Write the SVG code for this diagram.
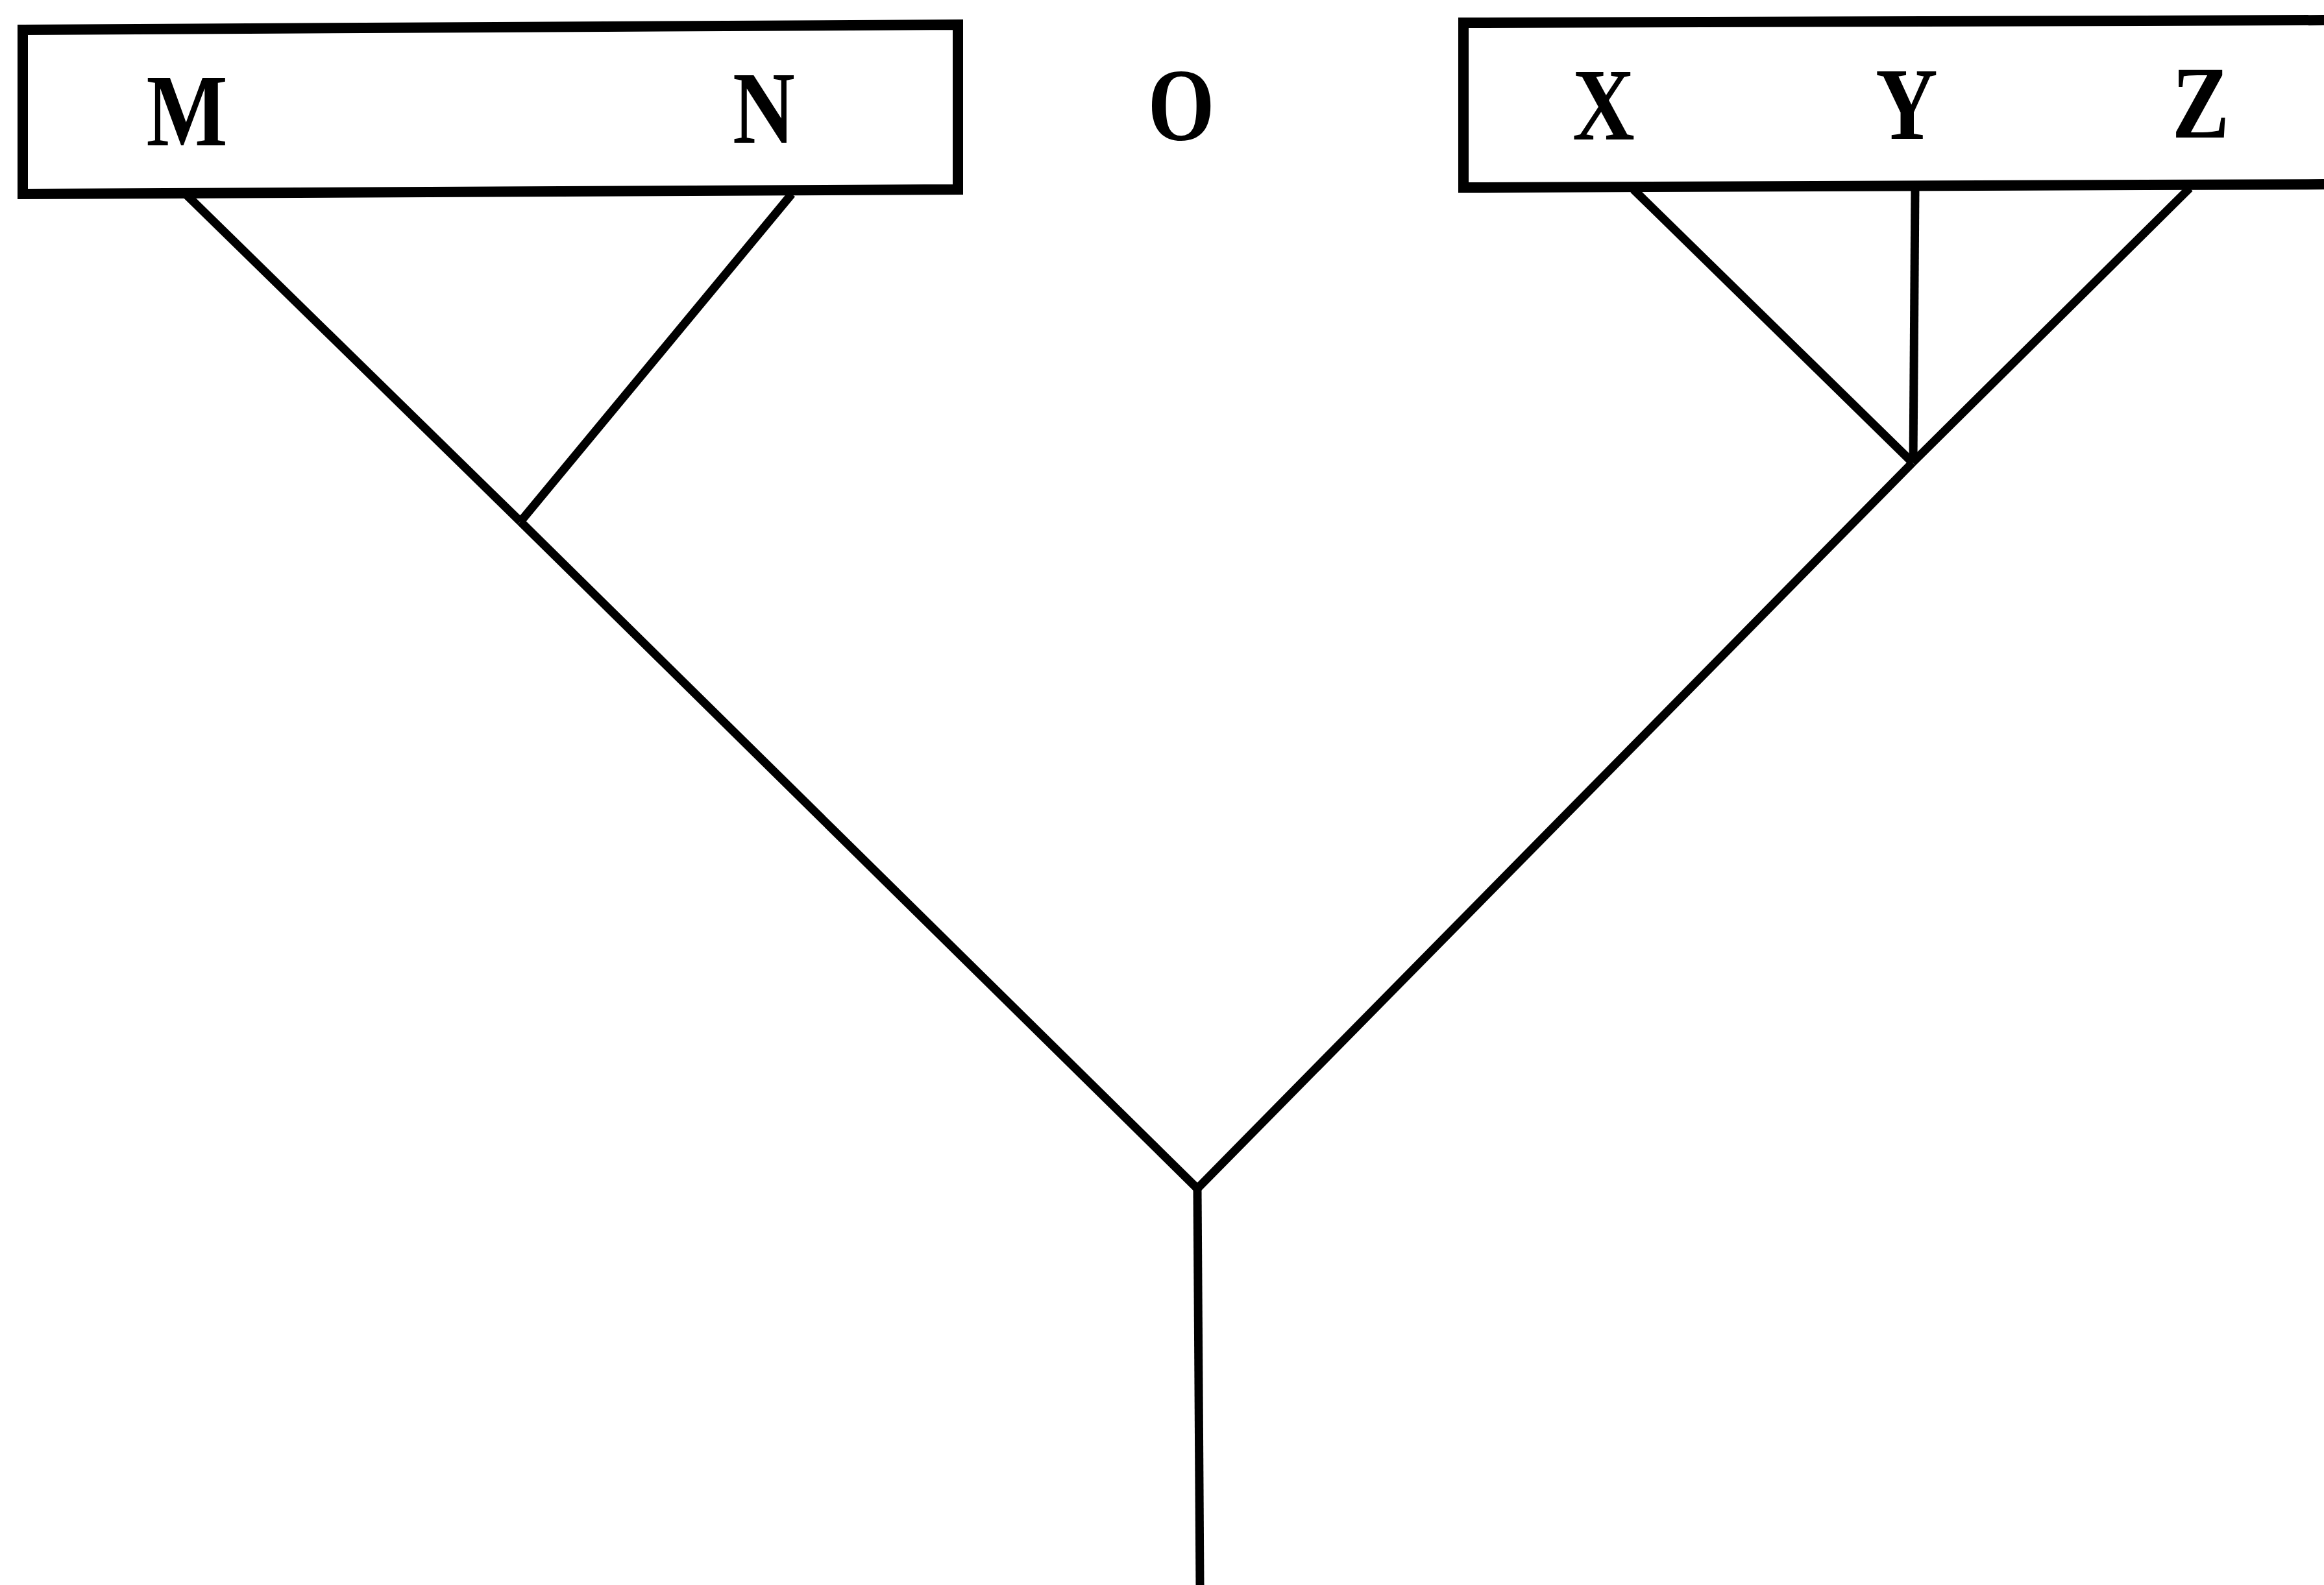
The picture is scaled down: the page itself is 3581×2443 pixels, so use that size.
<svg xmlns="http://www.w3.org/2000/svg" width="3581" height="2443" viewBox="0 0 3581 2443">
<style>
.box{fill:none;stroke:#000;stroke-width:16;stroke-linejoin:miter}
.lbl{font-family:"Liberation Serif","Times New Roman",serif;font-weight:bold;font-size:158px;fill:#000;text-anchor:middle}
.con line{stroke:#000;stroke-width:13;stroke-linecap:butt}
</style>
<rect width="3581" height="2443" fill="#fff"/>
<g id="node-MN">
<polygon class="box" points="35,46 1476,38 1476,292 35,299"/>
<text class="lbl" transform="translate(288,224) scale(0.84,1)">M</text>
<text class="lbl" transform="translate(1177,220) scale(0.84,1)">N</text>
</g>
<g id="node-O">
<text class="lbl" transform="translate(1820,215) scale(0.84,1)">O</text>
</g>
<g id="node-XYZ">
<polygon class="box" points="2255,35 3600,31 3600,284 2255,289"/>
<text class="lbl" transform="translate(2471,215) scale(0.84,1)">X</text>
<text class="lbl" transform="translate(2938,214) scale(0.84,1)">Y</text>
<text class="lbl" transform="translate(3391,212) scale(0.84,1)">Z</text>
</g>
<g id="connectors" class="con">
<line x1="287" y1="300" x2="802" y2="804"/>
<line x1="1220" y1="299" x2="802" y2="804"/>
<line x1="802" y1="804" x2="1845" y2="1832"/>
<line x1="2517" y1="292" x2="2947" y2="713"/>
<line x1="2951" y1="290" x2="2948" y2="713"/>
<line x1="3374" y1="290" x2="2947" y2="713"/>
<line x1="2947" y1="713" x2="1845" y2="1832"/>
<line x1="1845" y1="1832" x2="1849" y2="2443"/>
</g>
</svg>
